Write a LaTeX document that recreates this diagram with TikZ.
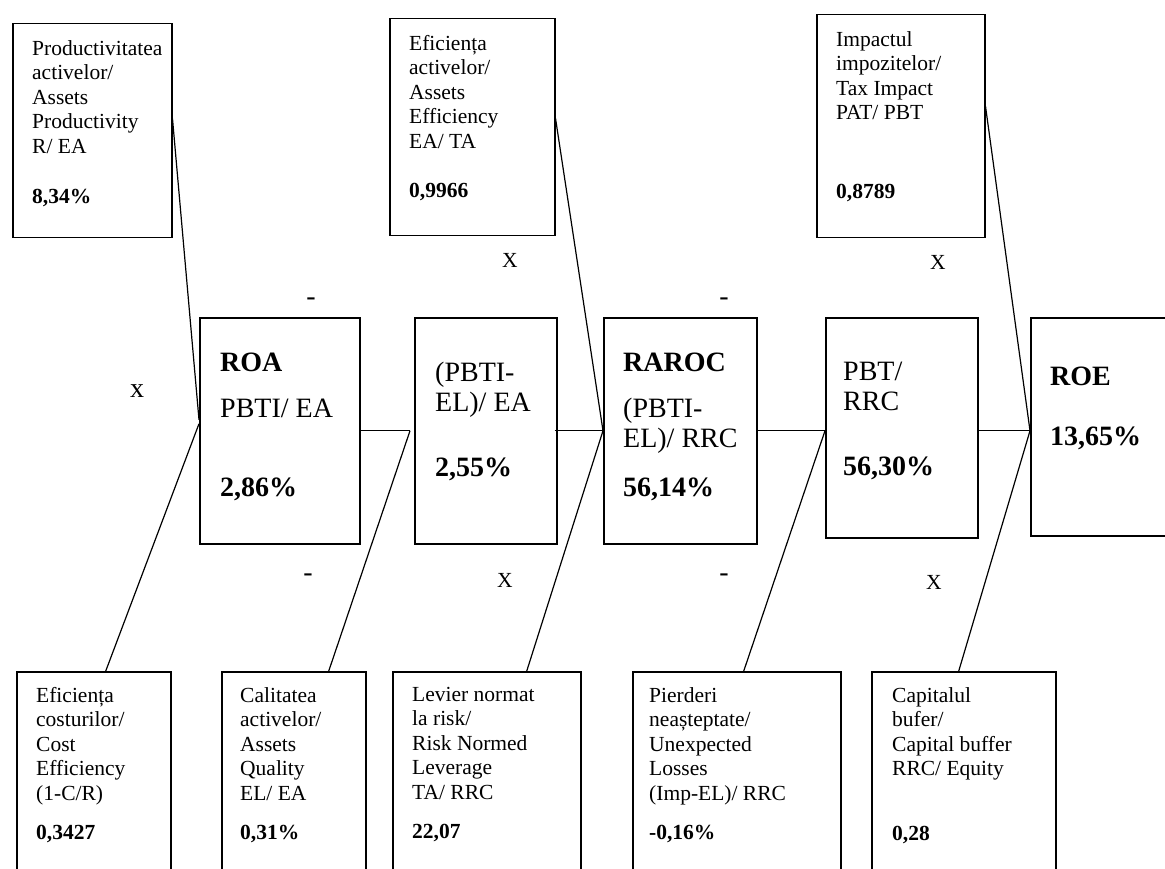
\documentclass[tikz,border=0pt]{standalone}
\usepackage{fontspec}
\setmainfont{Liberation Serif}
\usepackage{tikz}
\usetikzlibrary{positioning}

\begin{document}
\begin{tikzpicture}[
  x=1pt, y=-1pt,
  box/.style = {draw, line width=1.5pt, inner sep=0pt, anchor=north west},
  txt/.style = {align=left, inner sep=0pt, font=\fontsize{21.5}{24.5}\selectfont},
  bigtxt/.style = {align=left, inner sep=0pt, font=\fontsize{28}{30}\selectfont},
  link/.style = {line width=1.2pt},
  sign/.style = {inner sep=0pt, font=\fontsize{21.5}{24.5}\selectfont},
  bigsign/.style = {inner sep=0pt, font=\fontsize{28}{30}\selectfont}
  ]
	\clip (0,0) rectangle (1165,869);
	\fill[white] (0,0) rectangle (1165,869);

	% top row
	\node[box, minimum width=159pt, minimum height=214pt] (t1) at (12,23) {};
	\node[box, minimum width=165pt, minimum height=217pt] (t2) at (389,18) {};
	\node[box, minimum width=168pt, minimum height=223pt] (t3) at (816,14) {};

	% middle row
	\node[box, minimum width=160pt, minimum height=226pt] (roa) at (199,317) {};
	\node[box, minimum width=142pt, minimum height=226pt] (pe) at (414,317) {};
	\node[box, minimum width=153pt, minimum height=226pt] (raroc) at (603,317) {};
	\node[box, minimum width=152pt, minimum height=220pt] (pbt) at (825,317) {};
	\node[box, minimum width=150pt, minimum height=218pt] (roe) at (1030,317) {};

	% bottom row
	\node[box, minimum width=154pt, minimum height=260pt] (b1) at (16,671) {};
	\node[box, minimum width=144pt, minimum height=260pt] (b2) at (221,671) {};
	\node[box, minimum width=188pt, minimum height=260pt] (b3) at (392,671) {};
	\node[box, minimum width=208pt, minimum height=260pt] (b4) at (632,671) {};
	\node[box, minimum width=184pt, minimum height=260pt] (b5) at (871,671) {};

	\node[txt, below right=17pt and 20pt of t1.north west] (t1txt)
		{Productivitatea\\activelor/\\Assets\\Productivity\\R/ EA\\[25.5pt]\textbf{8,34\%}};
	\node[txt, below right=17pt and 20pt of t2.north west] (t2txt)
		{Eficiența\\activelor/\\Assets\\Efficiency\\EA/ TA\\[24.5pt]\textbf{0,9966}};
	\node[txt, below right=17pt and 20pt of t3.north west] (t3txt)
		{Impactul\\impozitelor/\\Tax Impact\\PAT/ PBT\\[54.5pt]\textbf{0,8789}};

	\node[bigtxt, below right=36pt and 21pt of roa.north west] (roatxt)
		{\textbf{ROA}\\[16pt]PBTI/ EA\\[49pt]\textbf{2,86\%}};
	\node[bigtxt, below right=45pt and 21pt of pe.north west] (petxt)
		{(PBTI-\\EL)/ EA\\[35pt]\textbf{2,55\%}};
	\node[bigtxt, below right=36pt and 20pt of raroc.north west] (raroctxt)
		{\textbf{RAROC}\\[16pt](PBTI-\\EL)/ RRC\\[19pt]\textbf{56,14\%}};
	\node[bigtxt, below right=45pt and 18pt of pbt.north west] (pbttxt)
		{PBT/\\RRC\\[35pt]\textbf{56,30\%}};
	\node[bigtxt, below right=50pt and 20pt of roe.north west] (roetxt)
		{\textbf{ROE}\\[30pt]\textbf{13,65\%}};

	\node[txt, below right=16pt and 20pt of b1.north west] (b1txt)
		{Eficiența\\costurilor/\\Cost\\Efficiency\\(1-C/R)\\[15pt]\textbf{0,3427}};
	\node[txt, below right=16pt and 19pt of b2.north west] (b2txt)
		{Calitatea\\activelor/\\Assets\\Quality\\EL/ EA\\[15pt]\textbf{0,31\%}};
	\node[txt, below right=16pt and 20pt of b3.north west] (b3txt)
		{Levier normat\\la risk/\\Risk Normed\\Leverage\\TA/ RRC\\[15pt]\textbf{22,07}};
	\node[txt, below right=16pt and 17pt of b4.north west] (b4txt)
		{Pierderi\\neașteptate/\\Unexpected\\Losses\\(Imp-EL)/ RRC\\[15pt]\textbf{-0,16\%}};
	\node[txt, below right=16pt and 21pt of b5.north west] (b5txt)
		{Capitalul\\bufer/\\Capital buffer\\RRC/ Equity\\[40pt]\textbf{0,28}};

	% operators
	\node[bigsign] (op1) at (137,391) {x};
	\node[bigsign] (op2) at (311,302) {-};
	\node[bigsign] (op3) at (308,578) {-};
	\node[sign] (op4) at (510,260) {X};
	\node[sign] (op5) at (505,580) {X};
	\node[bigsign] (op6) at (724,302) {-};
	\node[bigsign] (op7) at (724,578) {-};
	\node[sign] (op8) at (938,262) {X};
	\node[sign] (op9) at (934,582) {X};

	\coordinate[left=4pt of pe.west] (j1);

	\draw[link] ([yshift=12pt]t1.east) -- ([yshift=11pt]roa.west);
	\draw[link] ([xshift=12pt]b1.north) -- ([yshift=7pt]roa.west);
	\draw[link] (roa.east) -- (j1);
	\draw[link] ([xshift=35pt]b2.north) -- (j1);
	\draw[link] ([xshift=-3pt]pe.east) -- (raroc.west);
	\draw[link] ([yshift=9pt]t2.east) -- (raroc.west);
	\draw[link] ([xshift=40pt]b3.north) -- (raroc.west);
	\draw[link] (raroc.east) -- (raroc.east -| pbt.west);
	\draw[link] ([xshift=7pt]b4.north) -- (raroc.east -| pbt.west);
	\draw[link] (raroc.east -| pbt.east) -- (raroc.east -| roe.west);
	\draw[link] ([yshift=20pt]t3.east) -- (raroc.east -| roe.west);
	\draw[link] ([xshift=-5pt]b5.north) -- (raroc.east -| roe.west);

\end{tikzpicture}
\end{document}
